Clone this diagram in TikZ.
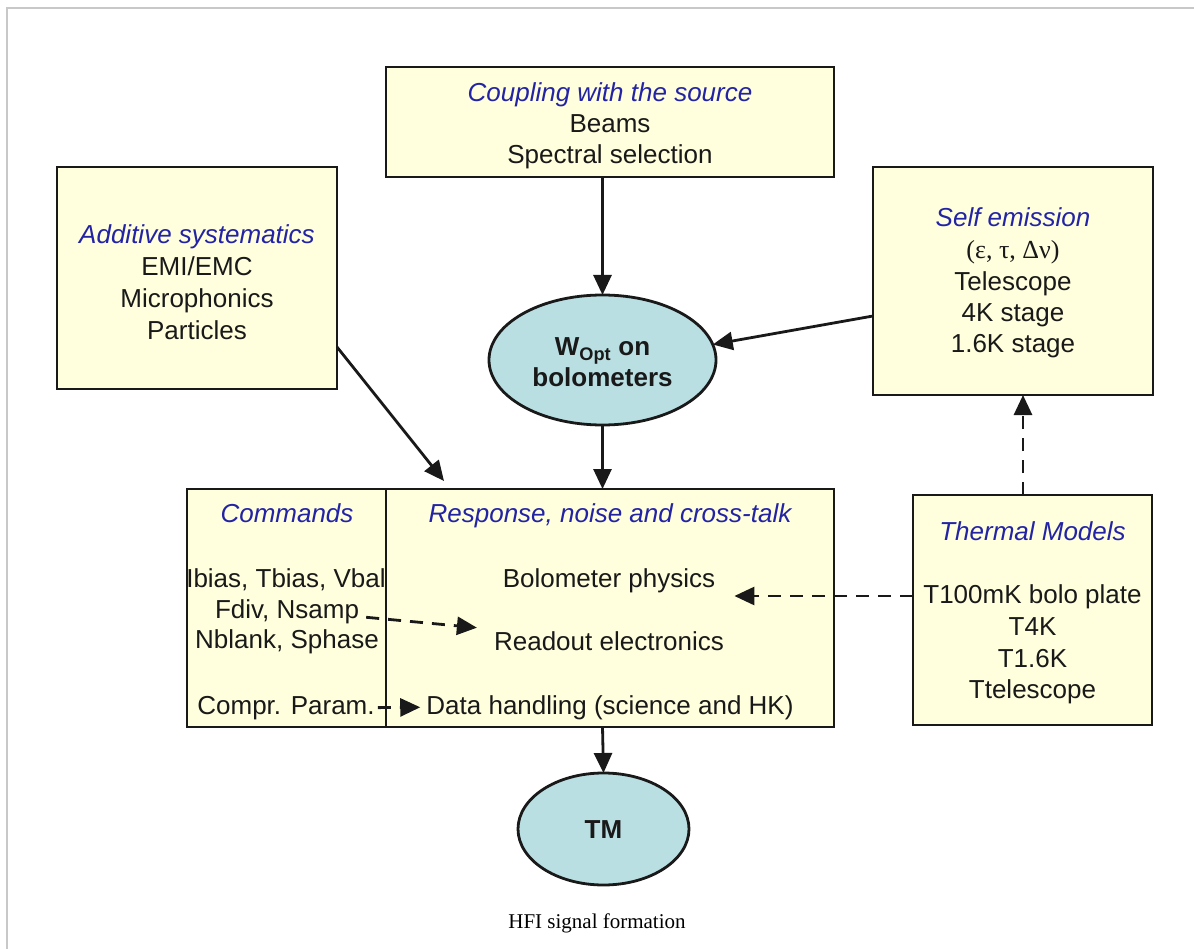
\documentclass[tikz,border=0pt]{standalone}
\usepackage{fontspec}
\setmainfont{Liberation Sans}
\newfontfamily\timesfont{Liberation Serif}
\usetikzlibrary{arrows.meta,shapes.geometric,calc}
\definecolor{boxfill}{RGB}{255,255,222}
\definecolor{ovalfill}{RGB}{185,223,227}
\definecolor{titleblue}{RGB}{35,35,165}
\definecolor{framegray}{RGB}{200,200,200}
\definecolor{ink}{RGB}{25,25,25}

\begin{document}
\begin{tikzpicture}[x=1pt,y=-1pt,
  panel/.style={draw=ink, line width=2.8pt, fill=boxfill, inner sep=0pt, outer sep=0pt},
  oval/.style={ellipse, draw=ink, line width=2.8pt, fill=ovalfill, inner sep=0pt, outer sep=0pt},
  txt/.style={font=\fontsize{26}{31}\selectfont, text=ink, inner sep=0pt, anchor=base},
  ttl/.style={font=\fontsize{26}{31}\selectfont\itshape, text=titleblue, inner sep=0pt, anchor=base},
  btxt/.style={font=\fontsize{26}{31}\selectfont\bfseries, text=ink, inner sep=0pt, anchor=base},
  arr/.style={draw=ink, line width=2.8pt, -{Triangle[length=20pt,width=18pt]}},
  darr/.style={arr, dash pattern=on 13pt off 9pt}
]
\useasboundingbox (0,0) rectangle (1194,949);

% page frame
\draw[framegray, line width=1.5pt] (7,949) -- (7,8) -- (1194,8);

% boxes
\node[panel, minimum width=448pt, minimum height=110pt] (couple) at (610,122) {};
\node[panel, minimum width=280pt, minimum height=222pt] (addsys) at (197,278) {};
\node[panel, minimum width=280pt, minimum height=228pt] (self) at (1013,281) {};
\node[panel, minimum width=200pt, minimum height=238pt] (cmd) at (287,608) {};
\node[panel, minimum width=448pt, minimum height=238pt] (resp) at (610,608) {};
\node[panel, minimum width=239pt, minimum height=230pt] (thermal) at (1032.5,610) {};
\node[oval, minimum width=227pt, minimum height=130pt] (wopt) at (602.5,360) {};
\node[oval, minimum width=171pt, minimum height=112pt] (tm) at (603.5,829) {};

% coupling with the source
\node[ttl] (coupleT) at (610,102) {Coupling with the source};
\node[txt] (beams) at (610,133) {Beams};
\node[txt] (spectral) at (610,164) {Spectral selection};

% additive systematics
\node[ttl] (addT) at (197,244) {Additive systematics};
\node[txt] (emi) at (197,276) {EMI/EMC};
\node[txt] (micro) at (197,308) {Microphonics};
\node[txt] (part) at (197,340) {Particles};

% self emission
\node[ttl] (selfT) at (1013,227) {Self emission};
\node[txt, font=\fontsize{26}{31}\selectfont\timesfont] (greek) at (1013,259) {(ε, τ, Δν)};
\node[txt] (tel) at (1013,291) {Telescope};
\node[txt] (st4) at (1013,322) {4K stage};
\node[txt] (st16) at (1013,353) {1.6K stage};

% optical power on the bolometers
\node[btxt] (woptA) at (602.5,356) {W\textsubscript{Opt} on};
\node[btxt] (woptB) at (602.5,387) {bolometers};

% commands
\node[ttl] (cmdT) at (287,522) {Commands};
\node[txt] (ibias) at (286,587) {Ibias, Tbias, Vbal};
\node[txt] (fdiv) at (287,618) {Fdiv, Nsamp};
\node[txt] (nblank) at (287,648) {Nblank, Sphase};
\node[txt] (compr) at (286,714) {Compr. Param.};

% response, noise and cross-talk
\node[ttl] (respT) at (610,522) {Response, noise and cross-talk};
\node[txt] (bolo) at (609,587) {Bolometer physics};
\node[txt] (readout) at (609,650) {Readout electronics};
\node[txt] (data) at (610,714) {Data handling (science and HK)};

% thermal models
\node[ttl] (thermT) at (1032.5,540) {Thermal Models};
\node[txt] (t100) at (1032.5,603) {T100mK bolo plate};
\node[txt] (t4) at (1032.5,635) {T4K};
\node[txt] (t16) at (1032.5,667) {T1.6K};
\node[txt] (ttel) at (1032.5,698) {Ttelescope};

% telemetry
\node[btxt] (tmT) at (603.5,838) {TM};

% caption
\node[inner sep=0pt, anchor=base, font=\fontsize{21}{25}\selectfont\timesfont, text=black] (caption) at (597,928) {HFI signal formation};

% free ends of the connectors
\coordinate (addOut) at ($(addsys.south east)+(0,-42)$);
\coordinate (addIn) at ($(resp.north west)+(58,-8)$);
\coordinate (selfOut) at ($(self.west)+(0,35)$);
\coordinate (thermOut) at ($(thermal.west)+(0,-14)$);
\coordinate (boloIn) at ($(bolo.east |- thermOut)+(19,0)$);
\coordinate (thermUp) at ($(thermal.north)+(-9.5,0)$);
\coordinate (nsampOut) at ($(fdiv.east)+(7,6)$);
\coordinate (readIn) at ($(readout.west)+(-17,-13)$);
\coordinate (comprOut) at ($(compr.east)+(3,0)$);
\coordinate (dataIn) at ($(data.west)+(-6,0)$);

% solid connectors
\draw[arr] (wopt.north |- couple.south) -- (wopt.north);
\draw[arr] (selfOut) -- (wopt.8);
\draw[arr] (addOut) -- (addIn);
\draw[arr] (wopt.south) -- (wopt.south |- resp.north);
\draw[arr] (wopt.south |- resp.south) -- (tm.north);

% dashed connectors
\draw[darr] (thermOut) -- (boloIn);
\draw[darr] (thermUp) -- (thermUp |- self.south);
\draw[darr] (nsampOut) -- (readIn);
\draw[darr] (comprOut) -- (dataIn);
\end{tikzpicture}
\end{document}
